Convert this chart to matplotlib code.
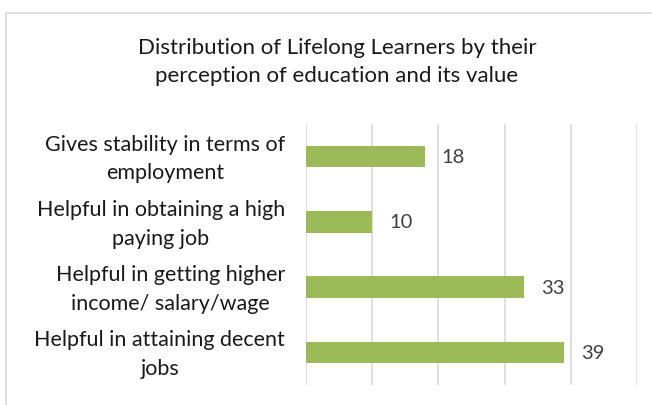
import matplotlib.pyplot as plt
from matplotlib.patches import Rectangle
from matplotlib.transforms import ScaledTranslation

# Chart data
categories = [
    'Gives stability in terms of\nemployment',
    'Helpful in obtaining a high\npaying job',
    'Helpful in getting higher\nincome/ salary/wage',
    'Helpful in attaining decent\njobs',
]
values = [18, 10, 33, 39]
title = 'Distribution of Lifelong Learners by their\nperception of education and its value'

bar_color = '#9BBB59'
grid_color = '#D9D9D9'
text_color = '#404040'

plt.rcParams['font.family'] = ['Lato', 'DejaVu Sans']

fig = plt.figure(figsize=(6.52, 4.06), dpi=100)
ax = fig.add_axes([306 / 652, 1 - 386 / 406, (637 - 306) / 652, (386 - 125) / 406])

# outer chart border
fig.patches.append(Rectangle((6 / 652, -0.1), 1.2, 1 - 14 / 406 + 0.1,
                             transform=fig.transFigure, fill=False,
                             edgecolor=grid_color, linewidth=1.2))

y_pos = list(range(len(categories)))
bars = ax.barh(y_pos, values, height=0.33, color=bar_color)

for y, v in zip(y_pos, values):
    ax.annotate(str(v), xy=(v, y), xytext=(12, 0), textcoords='offset points',
                va='center', ha='left', fontsize=14.5, color=text_color)

ax.set_xlim(0, 50)
ax.set_ylim(len(categories) - 0.5, -0.5)
ax.set_xticks(range(0, 51, 10))
ax.set_xticklabels([])
ax.tick_params(axis='x', length=0)
ax.tick_params(axis='y', length=0, pad=15)
ax.set_yticks(y_pos)
ax.set_yticklabels(categories, fontsize=15.5, color='#1a1a1a',
                   multialignment='center', linespacing=1.55)
# nudge category labels up a little
shift = ScaledTranslation(0, 0.05, fig.dpi_scale_trans)
for lbl in ax.get_yticklabels():
    lbl.set_transform(lbl.get_transform() + shift)
ax.grid(axis='x', color=grid_color, linewidth=1.2)
ax.set_axisbelow(True)
for s in ax.spines.values():
    s.set_visible(False)

fig.text(337 / 652, 1 - 62 / 406, title, ha='center', va='center',
         fontsize=16, color='#1a1a1a', linespacing=1.5)

fig.savefig('out.png', dpi=100)
